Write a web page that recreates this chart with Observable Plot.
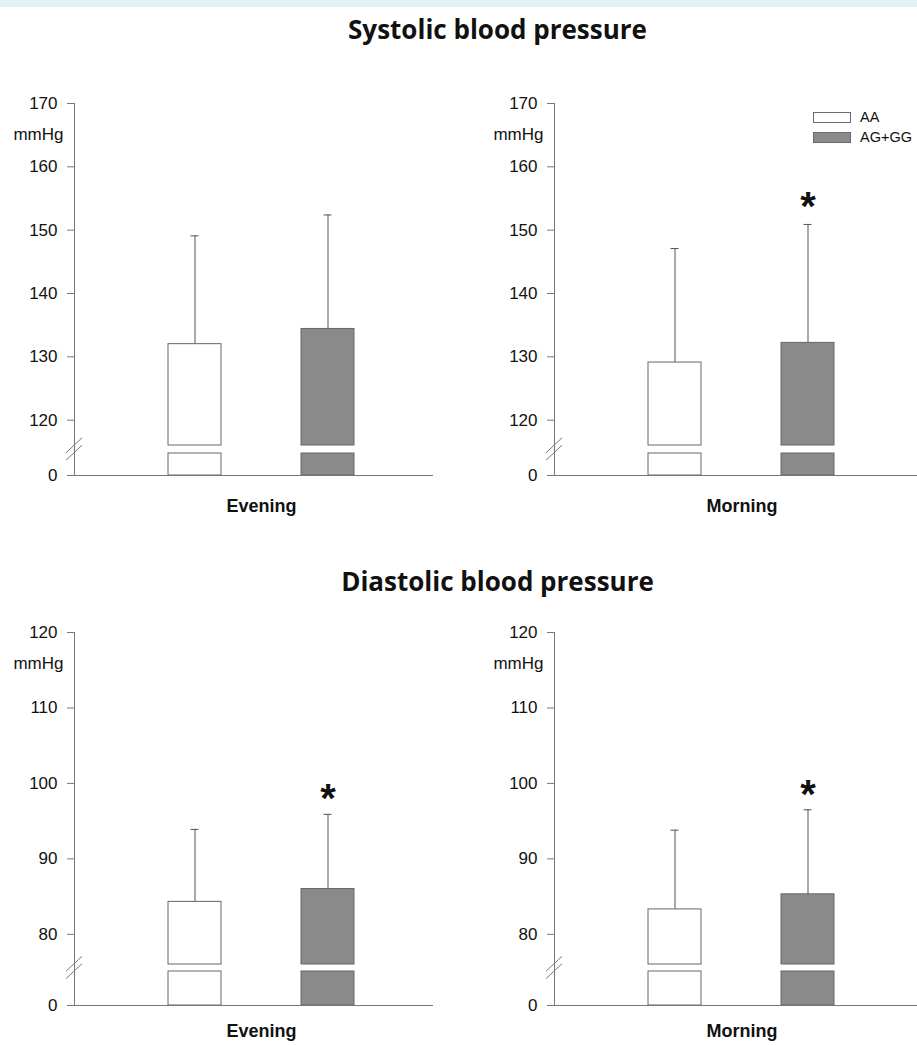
<!DOCTYPE html>
<html><head><meta charset="utf-8">
<script src="https://cdn.jsdelivr.net/npm/d3@7"></script>
<script src="https://cdn.jsdelivr.net/npm/@observablehq/plot@0.6"></script>
<style>
body{margin:0;background:#fff;}
#page{position:relative;width:917px;height:1045px;overflow:hidden;background:#fff;font-family:'Liberation Sans',Arial,sans-serif;}
.band{position:absolute;left:0;top:0;width:917px;height:7px;background:#e4f1f5;}
.title{position:absolute;left:0;width:995px;text-align:center;font-family:'Open Sans',Lato,sans-serif;font-weight:700;font-size:26px;color:#111;line-height:1;}
.panel{position:absolute;}
.legend{position:absolute;left:813px;top:107px;font-family:'Liberation Sans',Arial,sans-serif;font-size:14.5px;color:#111;}
.legend .row{display:flex;align-items:center;height:20px;}
.legend .sw{display:inline-block;width:36px;height:9px;border:1px solid #6a6a6a;margin-right:9px;}
</style>
</head><body><div id="page"><div class="band"></div></div>
<script>
// ---- data ----
const groups = ["AA", "AG+GG"];
const fills = ["#ffffff", "#8a8a8a"];
const titles = ["Systolic blood pressure", "Diastolic blood pressure"];
const times = ["Evening", "Morning"];

const sbpEveningMean = [132.0, 134.4];
const sbpEveningUpper = [149.1, 152.4];
const sbpEveningSig = [false, false];
const sbpMorningMean = [129.1, 132.2];
const sbpMorningUpper = [147.1, 150.9];
const sbpMorningSig = [false, true];

const dbpEveningMean = [84.3, 86.0];
const dbpEveningUpper = [93.9, 95.9];
const dbpEveningSig = [false, true];
const dbpMorningMean = [83.3, 85.3];
const dbpMorningUpper = [93.8, 96.5];
const dbpMorningSig = [false, true];

const sbpTicks = [0, 120, 130, 140, 150, 160, 170];
const dbpTicks = [0, 80, 90, 100, 110, 120];
const unit = "mmHg";

// ---- layout ----
const page = document.getElementById("page");
const cols = [
  {left: 0, width: 440, marginLeft: 74, marginRight: 8, xRange: [168, 354], labelDx: 8},
  {left: 460, width: 457, marginLeft: 94, marginRight: 0, xRange: [188, 374], labelDx: 6}
];
const rows = [
  {top: 60, marginTop: 43, height: 475, marginBottom: 60, domain: [0, 10, 116, 170], range: [415, 393, 385, 43], ticks: sbpTicks, labelDy: 36, titleTop: 16, starDy: -4},
  {top: 590, marginTop: 42, height: 475, marginBottom: 60, domain: [0, 10, 76, 120], range: [415, 381, 374, 42], ticks: dbpTicks, labelDy: 31, titleTop: 568, starDy: -2}
];

function breakMark(yLow, yHigh) {
  return (index, scales, values, dims) => {
    const y0 = (scales.y(yLow) + scales.y(yHigh)) / 2;
    const x0 = dims.marginLeft;
    const g = d3.create("svg:g").attr("stroke", "#777").attr("stroke-width", 1);
    for (const off of [-3.7, 3.7]) {
      g.append("line").attr("x1", x0 - 8).attr("y1", y0 + off + 7.5).attr("x2", x0 + 8).attr("y2", y0 + off - 7.5);
    }
    return g.node();
  };
}

function panel(row, col, time, means, uppers, sig) {
  const data = groups.map((g, i) => ({group: g, mean: means[i], upper: uppers[i], sig: sig[i]}));
  const [d0, dLow, dHigh] = row.domain;
  const chart = Plot.plot({
    width: col.width,
    height: row.height,
    marginLeft: col.marginLeft,
    marginRight: col.marginRight,
    marginTop: row.marginTop,
    marginBottom: row.marginBottom,
    style: {fontFamily: "'Liberation Sans', Arial, sans-serif", fontSize: "17px", color: "#000", background: "transparent", overflow: "visible"},
    x: {type: "band", domain: groups, range: col.xRange, paddingInner: 0.602, paddingOuter: 0, axis: null},
    y: {type: "linear", domain: row.domain, range: row.range, axis: null},
    color: {domain: groups, range: fills},
    marks: [
      Plot.ruleX(data, {x: "group", y1: "mean", y2: "upper", stroke: "#555", strokeWidth: 1}),
      Plot.tickY(data, {x: "group", y: "upper", stroke: "#555", strokeWidth: 1, insetLeft: 22.5, insetRight: 22.5}),
      Plot.barY(data, {x: "group", y1: d0, y2: dLow, fill: "group", stroke: "#666", strokeWidth: 1}),
      Plot.barY(data, {x: "group", y1: dHigh, y2: "mean", fill: "group", stroke: "#666", strokeWidth: 1}),
      Plot.text(data.filter(d => d.sig), {x: "group", y: "upper", text: () => "*", fontSize: 40, fontWeight: "bold", lineAnchor: "bottom", dy: row.starDy, fill: "#111"}),
      Plot.frame({anchor: "left", stroke: "#777"}),
      Plot.frame({anchor: "bottom", stroke: "#777"}),
      breakMark(dLow, dHigh),
      Plot.axisY({ticks: row.ticks, tickFormat: d => String(d), tickSize: 7, tickPadding: 10, stroke: "#777", fill: "#111", fontSize: 17, label: null}),
      Plot.text([unit], {frameAnchor: "top-left", text: d => d, textAnchor: "end", dx: -11, dy: 24, fontSize: 17, fill: "#111"}),
      Plot.text([time], {frameAnchor: "bottom", text: d => d, lineAnchor: "bottom", dx: col.labelDx, dy: row.labelDy, fontSize: 18, fontWeight: "bold", fill: "#111"})
    ]
  });
  chart.classList.add("panel");
  chart.style.left = col.left + "px";
  chart.style.top = row.top + "px";
  chart.style.position = "absolute";
  page.appendChild(chart);
}

rows.forEach((row, r) => {
  const t = document.createElement("div");
  t.className = "title";
  t.style.top = row.titleTop + "px";
  t.textContent = titles[r];
  page.appendChild(t);
});

panel(rows[0], cols[0], times[0], sbpEveningMean, sbpEveningUpper, sbpEveningSig);
panel(rows[0], cols[1], times[1], sbpMorningMean, sbpMorningUpper, sbpMorningSig);
panel(rows[1], cols[0], times[0], dbpEveningMean, dbpEveningUpper, dbpEveningSig);
panel(rows[1], cols[1], times[1], dbpMorningMean, dbpMorningUpper, dbpMorningSig);

// legend
const legend = document.createElement("div");
legend.className = "legend";
groups.forEach((g, i) => {
  const rowEl = document.createElement("div");
  rowEl.className = "row";
  const sw = document.createElement("span");
  sw.className = "sw";
  sw.style.background = fills[i];
  rowEl.appendChild(sw);
  rowEl.appendChild(document.createTextNode(g));
  legend.appendChild(rowEl);
});
page.appendChild(legend);
</script>
</body></html>
